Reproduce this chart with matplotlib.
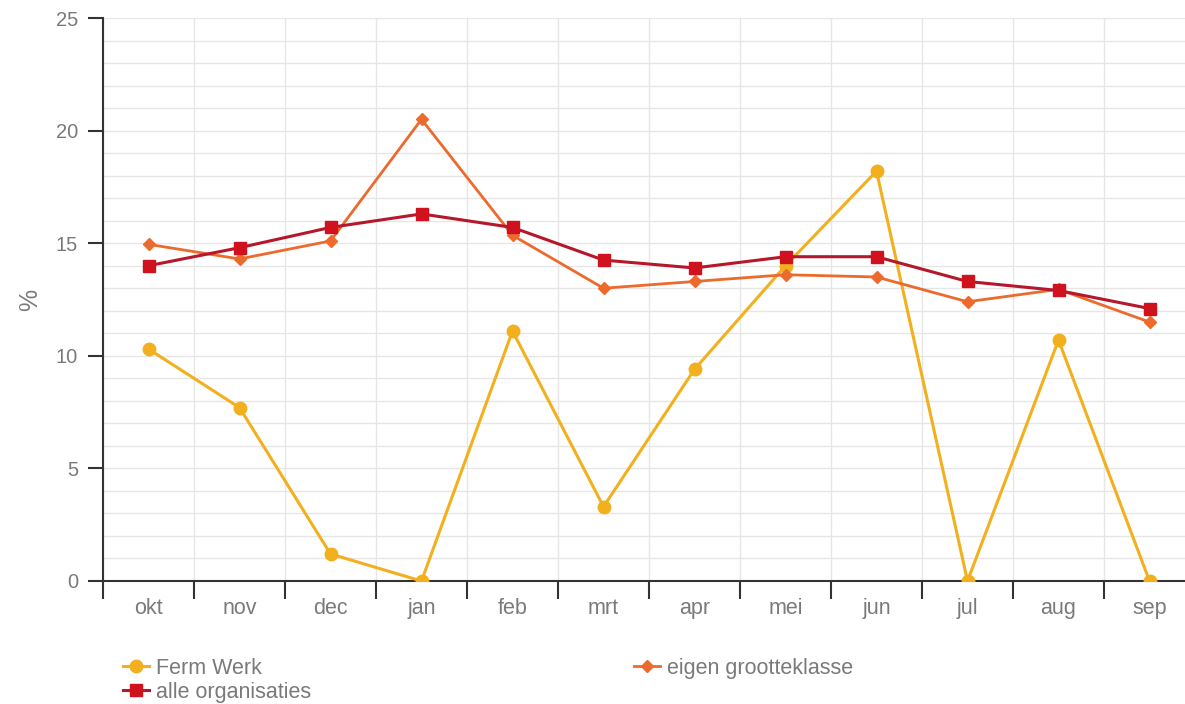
import numpy as np
import matplotlib.pyplot as plt

plt.rcParams['font.family'] = ['Liberation Sans', 'DejaVu Sans']

months = ["okt", "nov", "dec", "jan", "feb", "mrt", "apr", "mei", "jun", "jul", "aug", "sep"]
ferm_werk = [10.3, 7.7, 1.2, 0.0, 11.1, 3.3, 9.4, 14.0, 18.2, 0.0, 10.7, 0.0]
eigen_klasse = [14.95, 14.3, 15.1, 20.5, 15.35, 13.0, 13.3, 13.6, 13.5, 12.4, 12.95, 11.5]
alle_orgs = [14.0, 14.8, 15.7, 16.3, 15.7, 14.25, 13.9, 14.4, 14.4, 13.3, 12.9, 12.1]

text_grey = "#7a7a7a"

fig = plt.figure(figsize=(11.85, 7.04), dpi=100)
ax = fig.add_axes([103 / 1185, 1 - 581 / 704, 1092 / 1185, 563 / 704])

x = np.arange(len(months))

# Lines, bottom to top
l1, = ax.plot(x, ferm_werk, color="#f2b01e", lw=2.2, marker="o", ms=9, label="Ferm Werk", zorder=3)
l2, = ax.plot(x, eigen_klasse, color="#ec6a2c", lw=2.0, marker="D", ms=6, label="eigen grootteklasse", zorder=4)
l3, = ax.plot(x, alle_orgs, color="#b5172c", lw=2.2, marker="s", ms=9, mfc="#d0121f", mec="#d0121f",
              label="alle organisaties", zorder=5)

ax.set_xlim(-0.5, len(months) - 0.5)
ax.set_ylim(0, 25)

# Ticks at the category boundaries, labels in the middle
ax.set_xticks(np.arange(-0.5, len(months), 1))
ax.set_xticklabels([])
ax.set_xticks(x, minor=True)
ax.set_xticklabels(months, minor=True)
ax.tick_params(axis="x", which="major", length=13, width=1.5, color="#333333", direction="out")
ax.tick_params(axis="x", which="minor", length=0, pad=12, labelsize=15.5, labelcolor=text_grey)

ax.set_yticks(np.arange(0, 26, 5))
ax.set_yticks(np.arange(0, 26, 1), minor=True)
ax.tick_params(axis="y", which="major", length=11, width=1.5, color="#333333", pad=7,
               labelsize=14.5, labelcolor=text_grey)
ax.tick_params(axis="y", which="minor", length=0)

# Grid
ax.grid(axis="y", which="both", color="#e6e6e6", lw=1)
ax.grid(axis="x", which="major", color="#e6e6e6", lw=1)
ax.set_axisbelow(True)

for s in ["top", "right"]:
    ax.spines[s].set_visible(False)
ax.spines["left"].set_color("#333333")
ax.spines["bottom"].set_color("#333333")
ax.spines["left"].set_linewidth(1.5)
ax.spines["bottom"].set_linewidth(1.5)

ax.set_ylabel("%", fontsize=18, color=text_grey)
ax.yaxis.set_label_coords(-0.056, 0.5)

leg_kw = dict(loc="upper left", frameon=False, fontsize=15.5, labelcolor=text_grey,
              handlelength=1.2, handletextpad=0.35, labelspacing=0.12,
              borderaxespad=0, borderpad=0)
fig.legend([l1, l3], ["Ferm Werk", "alle organisaties"],
           bbox_to_anchor=(123 / 1185, 1 - 658 / 704), **leg_kw)
fig.legend([l2], ["eigen grootteklasse"], bbox_to_anchor=(634 / 1185, 1 - 658 / 704), **leg_kw)

fig.savefig("out.png", dpi=100)
